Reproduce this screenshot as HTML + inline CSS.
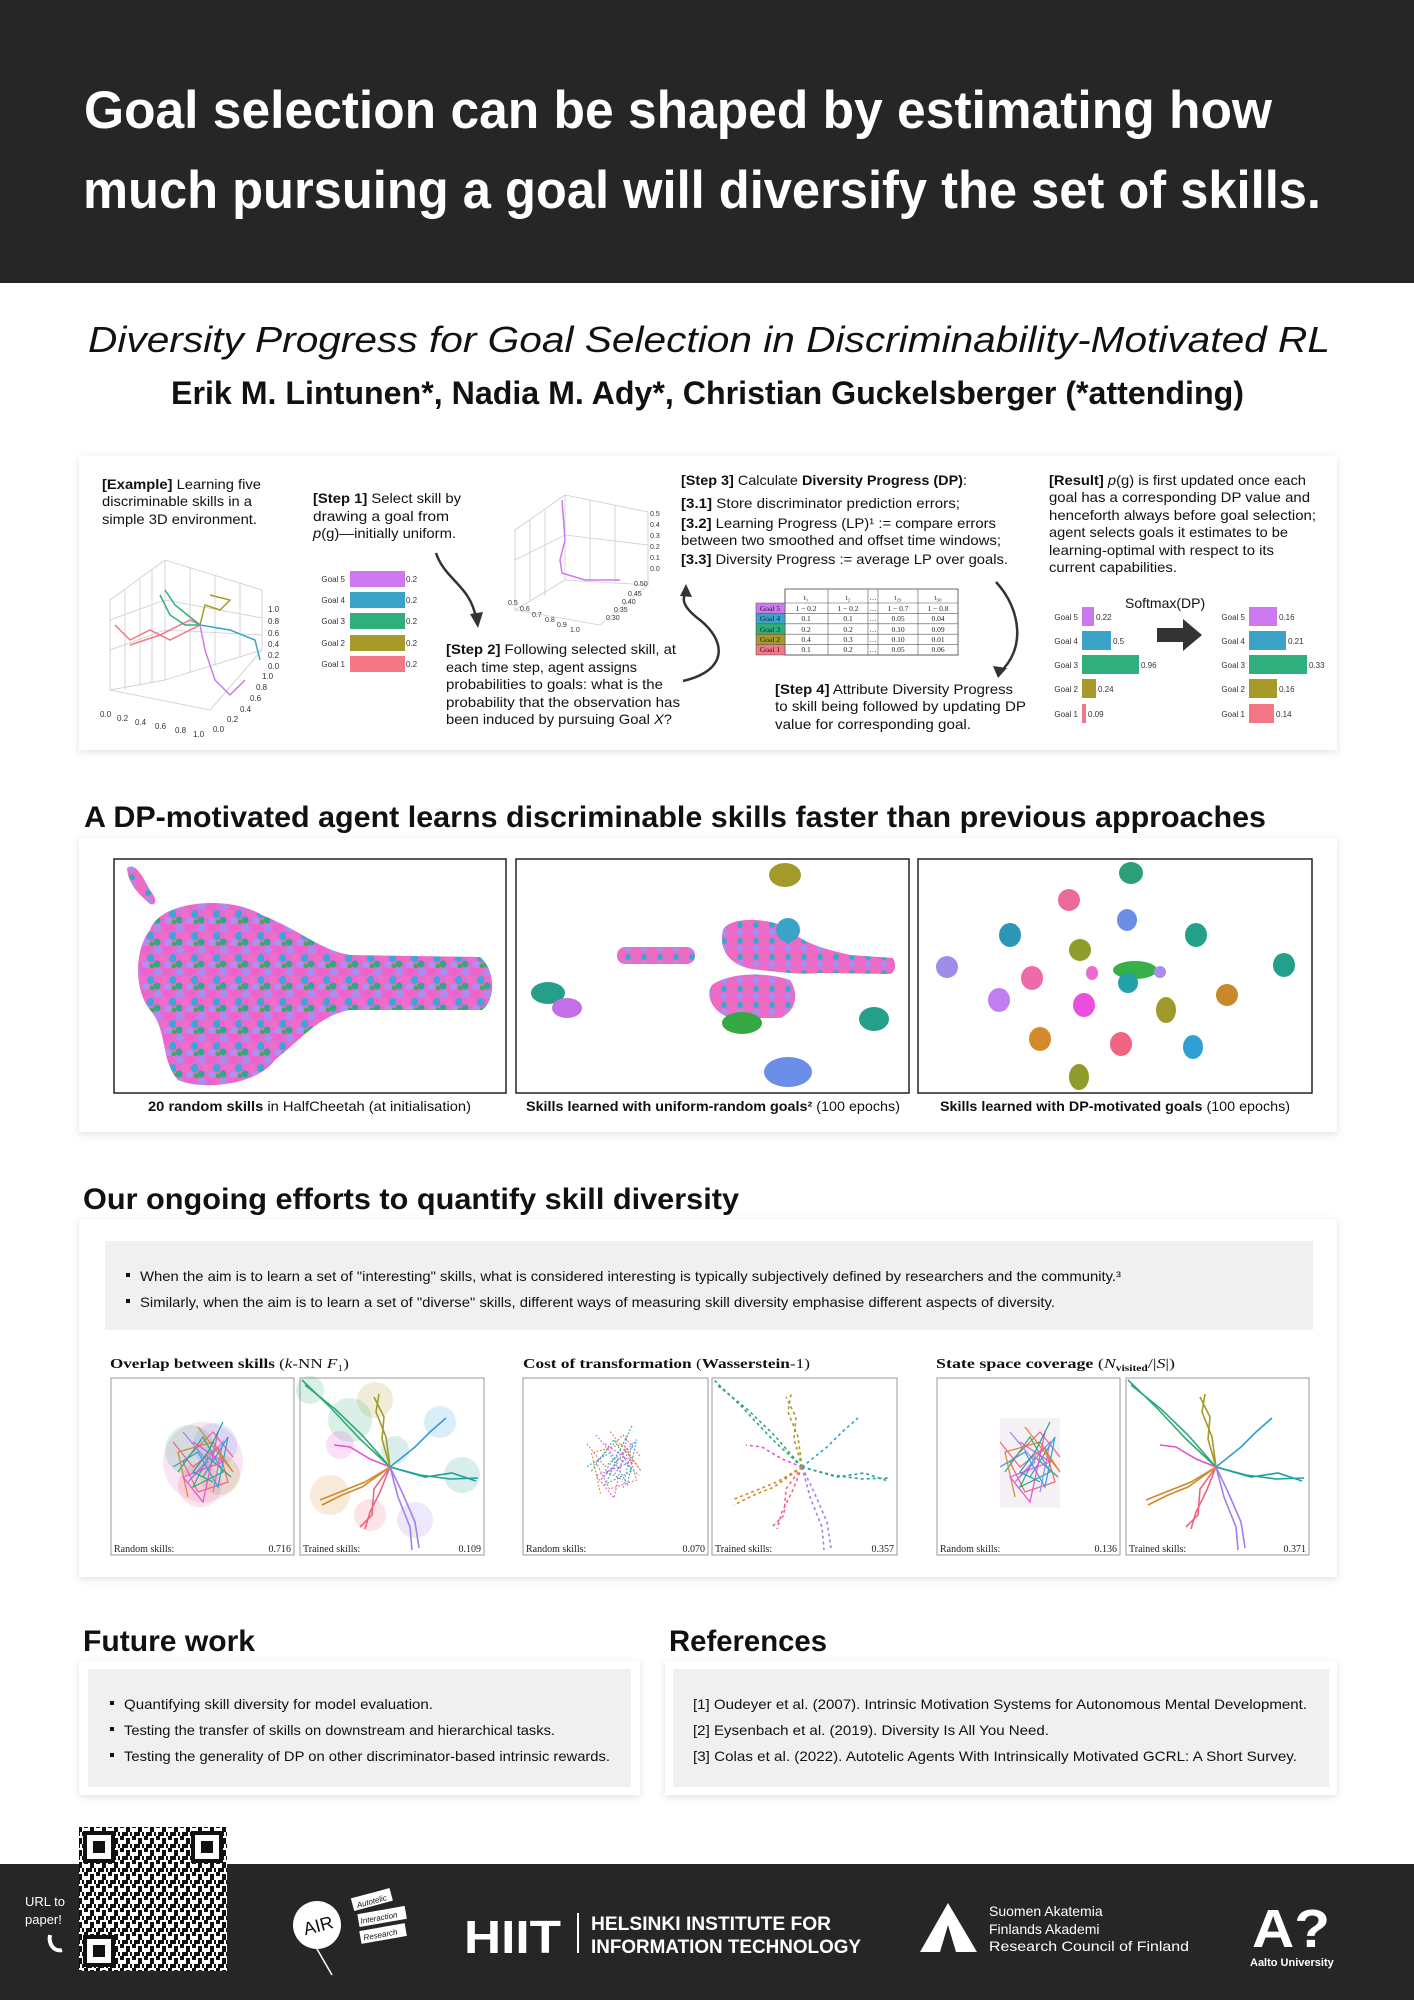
<!DOCTYPE html>
<html><head><meta charset="utf-8"><style>html,body{margin:0;padding:0;background:#fff}svg{display:block}</style></head>
<body>
<svg width="1414" height="2000" viewBox="0 0 1414 2000" xmlns="http://www.w3.org/2000/svg" font-family="Liberation Sans, sans-serif">
<defs>
<filter id="sh" x="-5%" y="-5%" width="110%" height="115%"><feDropShadow dx="0" dy="2" stdDeviation="4" flood-color="#000" flood-opacity="0.12"/></filter>
<pattern id="mix" width="22" height="22" patternUnits="userSpaceOnUse">
<rect width="22" height="22" fill="#e86ad0"/>
<circle cx="4" cy="4" r="4" fill="#a98ef0"/><circle cx="14" cy="3" r="4" fill="#f062c8"/><circle cx="19" cy="12" r="4" fill="#3aa7d6"/>
<circle cx="9" cy="12" r="4" fill="#ef6fc8"/><circle cx="3" cy="18" r="3.5" fill="#2fa88a"/><circle cx="14" cy="19" r="4" fill="#b58cf2"/><circle cx="20" cy="20" r="2.5" fill="#3fae4a"/>
</pattern>
<pattern id="mix2" width="16" height="16" patternUnits="userSpaceOnUse">
<rect width="16" height="16" fill="#ec6ac8"/>
<circle cx="4" cy="4" r="3.5" fill="#a98ef0"/><circle cx="12" cy="10" r="3.5" fill="#f26bbd"/><circle cx="4" cy="13" r="3" fill="#36a9c9"/>
</pattern>
<pattern id="qr" width="12" height="12" patternUnits="userSpaceOnUse">
<rect width="12" height="12" fill="#fff"/><rect x="0" y="0" width="4" height="4" fill="#111"/><rect x="6" y="2" width="4" height="6" fill="#111"/><rect x="2" y="8" width="6" height="4" fill="#111"/><rect x="10" y="8" width="2" height="4" fill="#111"/>
</pattern>
<g id="star" fill="none" stroke-width="1.6">
<path d="M0,0 L-30,-28 L-60,-60 L-88,-87" stroke="#2eaa72"/><path d="M0,0 L-4,-30 L-14,-55 L-11,-73" stroke="#a49b2a"/>
<path d="M0,0 L25,-20 L40,-35 L56,-49" stroke="#2f9fd6"/><path d="M0,0 L30,8 L60,12 L88,11" stroke="#1fa29a"/>
<path d="M0,0 L12,25 L25,55 L29,81" stroke="#a37ef2"/><path d="M0,0 L-10,25 L-20,45 L-25,62" stroke="#f06480"/>
<path d="M0,0 L-25,15 L-50,25 L-70,33" stroke="#d08a2a"/><path d="M0,0 L-20,-8 L-40,-20 L-56,-22" stroke="#e64fd3"/>
<path d="M0,0 L-28,-32 L-55,-58 L-85,-82" stroke="#2eaa72"/><path d="M0,0 L-8,-28 L-6,-50 L-16,-70" stroke="#a49b2a"/>
<path d="M0,0 L35,10 L62,6 L86,14" stroke="#1fa29a"/><path d="M0,0 L8,30 L20,60 L22,83" stroke="#a37ef2"/>
<path d="M0,0 L-16,22 L-18,48 L-30,60" stroke="#f06480"/><path d="M0,0 L-28,20 L-48,28 L-68,38" stroke="#d08a2a"/>
</g>
<g id="rnd" fill="none" stroke-width="1.2">
<path d="M-30,-20 L-10,5 L15,-15 L25,20 L-5,30 L-20,0 L10,-30 L30,-5" stroke="#f06480"/>
<path d="M-25,10 L0,-25 L20,10 L-10,25 L5,-5 L28,15" stroke="#2eaa72"/>
<path d="M-20,-30 L5,0 L-15,20 L20,-20 L10,30" stroke="#a37ef2"/>
<path d="M-30,5 L-5,-10 L15,25 L25,-25 L0,15" stroke="#2f9fd6"/>
<path d="M-15,35 L-25,-10 L10,-20 L30,10 L-5,-35" stroke="#d08a2a"/>
<path d="M-10,-20 L20,0 L-20,15 L0,40 L15,-30" stroke="#e64fd3"/>
<path d="M20,-40 L5,-10 L-10,10 L10,20" stroke="#1fa29a"/>
</g>
</defs>

<!-- header -->
<rect x="0" y="0" width="1414" height="283" fill="#262626"/>
<text x="84" y="128" font-size="53" font-weight="bold" fill="#fff" textLength="1188" lengthAdjust="spacingAndGlyphs">Goal selection can be shaped by estimating how</text>
<text x="83" y="208" font-size="53" font-weight="bold" fill="#fff" textLength="1238" lengthAdjust="spacingAndGlyphs">much pursuing a goal will diversify the set of skills.</text>

<text x="88" y="352" font-size="36" font-style="italic" fill="#111" textLength="1242" lengthAdjust="spacingAndGlyphs">Diversity Progress for Goal Selection in Discriminability-Motivated RL</text>
<text x="171" y="404" font-size="32" font-weight="bold" fill="#111" textLength="1073" lengthAdjust="spacingAndGlyphs">Erik M. Lintunen*, Nadia M. Ady*, Christian Guckelsberger (*attending)</text>

<!-- panel 1 -->
<rect x="79" y="456" width="1258" height="294" fill="#fff" filter="url(#sh)"/>
<g font-size="14" fill="#111">
<text x="102" y="489" textLength="159" lengthAdjust="spacingAndGlyphs"><tspan font-weight="bold">[Example]</tspan> Learning five</text>
<text x="102" y="506" textLength="150" lengthAdjust="spacingAndGlyphs">discriminable skills in a</text>
<text x="102" y="524" textLength="155" lengthAdjust="spacingAndGlyphs">simple 3D environment.</text>
<text x="313" y="503" textLength="148" lengthAdjust="spacingAndGlyphs"><tspan font-weight="bold">[Step 1]</tspan> Select skill by</text>
<text x="313" y="521" textLength="136" lengthAdjust="spacingAndGlyphs">drawing a goal from</text>
<text x="313" y="538" textLength="143" lengthAdjust="spacingAndGlyphs"><tspan font-style="italic">p</tspan>(g)—initially uniform.</text>
<text x="446" y="654" textLength="230" lengthAdjust="spacingAndGlyphs"><tspan font-weight="bold">[Step 2]</tspan> Following selected skill, at</text>
<text x="446" y="672" textLength="191" lengthAdjust="spacingAndGlyphs">each time step, agent assigns</text>
<text x="446" y="689" textLength="217" lengthAdjust="spacingAndGlyphs">probabilities to goals: what is the</text>
<text x="446" y="707" textLength="234" lengthAdjust="spacingAndGlyphs">probability that the observation has</text>
<text x="446" y="724" textLength="226" lengthAdjust="spacingAndGlyphs">been induced by pursuing Goal <tspan font-style="italic">X</tspan>?</text>
<text x="681" y="485" textLength="286" lengthAdjust="spacingAndGlyphs"><tspan font-weight="bold">[Step 3]</tspan> Calculate <tspan font-weight="bold">Diversity Progress (DP)</tspan>:</text>
<text x="681" y="508" textLength="279" lengthAdjust="spacingAndGlyphs"><tspan font-weight="bold">[3.1]</tspan> Store discriminator prediction errors;</text>
<text x="681" y="528" textLength="315" lengthAdjust="spacingAndGlyphs"><tspan font-weight="bold">[3.2]</tspan> Learning Progress (LP)¹ := compare errors</text>
<text x="681" y="545" textLength="320" lengthAdjust="spacingAndGlyphs">between two smoothed and offset time windows;</text>
<text x="681" y="564" textLength="327" lengthAdjust="spacingAndGlyphs"><tspan font-weight="bold">[3.3]</tspan> Diversity Progress := average LP over goals.</text>
<text x="775" y="694" textLength="238" lengthAdjust="spacingAndGlyphs"><tspan font-weight="bold">[Step 4]</tspan> Attribute Diversity Progress</text>
<text x="775" y="711" textLength="251" lengthAdjust="spacingAndGlyphs">to skill being followed by updating DP</text>
<text x="775" y="729" textLength="196" lengthAdjust="spacingAndGlyphs">value for corresponding goal.</text>
<text x="1049" y="485" textLength="257" lengthAdjust="spacingAndGlyphs"><tspan font-weight="bold">[Result]</tspan> <tspan font-style="italic">p</tspan>(g) is first updated once each</text>
<text x="1049" y="502" textLength="261" lengthAdjust="spacingAndGlyphs">goal has a corresponding DP value and</text>
<text x="1049" y="520" textLength="267" lengthAdjust="spacingAndGlyphs">henceforth always before goal selection;</text>
<text x="1049" y="537" textLength="239" lengthAdjust="spacingAndGlyphs">agent selects goals it estimates to be</text>
<text x="1049" y="555" textLength="225" lengthAdjust="spacingAndGlyphs">learning-optimal with respect to its</text>
<text x="1049" y="572" textLength="128" lengthAdjust="spacingAndGlyphs">current capabilities.</text>
<text x="1125" y="608" font-size="14">Softmax(DP)</text>
</g>

<!-- 3D plot 1 -->
<g stroke="#ccc" fill="none" stroke-width="0.8">
<path d="M110,600 L165,560 L165,680 L110,690 Z"/><path d="M165,560 L262,590 L262,650 L165,680"/><path d="M110,690 L210,710 L262,650"/>
<path d="M125,590 L125,690 M140,578 L140,686 M152,570 L152,683 M190,568 L190,672 M215,575 L215,665 M240,583 L240,658 M110,620 L165,600 L262,618 M110,650 L165,630 L262,635"/>
</g>
<g fill="none" stroke-width="1.5">
<path d="M115,625 L130,640 L150,630 L170,640 L200,625 L190,620 L160,635 L130,645" stroke="#f37787"/>
<path d="M160,595 L170,615 L185,625 L200,625 L175,605 L165,590" stroke="#2eaf7d"/>
<path d="M200,625 L205,605 L220,610 L230,600 L210,595" stroke="#a89a2a"/>
<path d="M200,625 L230,630 L255,640 L260,660" stroke="#3ba3c8"/>
<path d="M200,625 L205,650 L215,680 L230,695 L245,680" stroke="#cc79f0"/>
</g>
<g font-size="8" fill="#333">
<text x="268" y="612">1.0</text><text x="268" y="624">0.8</text><text x="268" y="636">0.6</text><text x="268" y="647">0.4</text><text x="268" y="658">0.2</text><text x="268" y="669">0.0</text>
<text x="100" y="717">0.0</text><text x="117" y="721">0.2</text><text x="135" y="725">0.4</text><text x="155" y="729">0.6</text><text x="175" y="733">0.8</text><text x="193" y="737">1.0</text>
<text x="262" y="679">1.0</text><text x="256" y="690">0.8</text><text x="250" y="701">0.6</text><text x="240" y="712">0.4</text><text x="227" y="722">0.2</text><text x="213" y="732">0.0</text>
</g>
<!-- 3D plot 2 -->
<g stroke="#ccc" fill="none" stroke-width="0.8">
<path d="M515,530 L565,495 L565,580 L515,610 Z"/><path d="M565,495 L648,512 L648,585 L565,580"/><path d="M515,610 L600,625 L648,585"/>
<path d="M530,520 L530,600 M545,510 L545,596 M590,500 L590,581 M615,505 L615,582 M515,560 L565,535 L648,545"/>
</g>
<path d="M562,500 L565,540 L560,560 L562,573 L585,580 L620,580" stroke="#cc79f0" fill="none" stroke-width="1.5"/>
<g font-size="7" fill="#333"><text x="650" y="516">0.5</text><text x="650" y="527">0.4</text><text x="650" y="538">0.3</text><text x="650" y="549">0.2</text><text x="650" y="560">0.1</text><text x="650" y="571">0.0</text>
<text x="634" y="586">0.50</text><text x="628" y="596">0.45</text><text x="622" y="604">0.40</text><text x="614" y="612">0.35</text><text x="606" y="620">0.30</text>
<text x="508" y="605">0.5</text><text x="520" y="611">0.6</text><text x="532" y="617">0.7</text><text x="545" y="622">0.8</text><text x="557" y="627">0.9</text><text x="570" y="632">1.0</text></g>

<!-- step 1 bars -->
<g font-size="8" fill="#333" text-anchor="end">
<text x="345" y="582">Goal 5</text><text x="345" y="603">Goal 4</text><text x="345" y="624">Goal 3</text><text x="345" y="646">Goal 2</text><text x="345" y="667">Goal 1</text></g>
<rect x="350" y="571" width="55" height="16" fill="#cc79f0"/><rect x="350" y="592" width="55" height="16" fill="#3ba3c8"/><rect x="350" y="613" width="55" height="16" fill="#2eaf7d"/><rect x="350" y="635" width="55" height="16" fill="#a89a2a"/><rect x="350" y="656" width="55" height="16" fill="#f37787"/>
<g font-size="8" fill="#333"><text x="406" y="582">0.2</text><text x="406" y="603">0.2</text><text x="406" y="624">0.2</text><text x="406" y="646">0.2</text><text x="406" y="667">0.2</text></g>

<!-- arrows -->
<g fill="none" stroke="#333" stroke-width="2.5">
<path d="M436,553 C445,580 470,585 476,618"/>
<path d="M683,681 C730,670 725,640 700,620 C680,605 683,598 686,592"/>
<path d="M996,582 C1022,610 1025,650 1000,672"/>
</g>
<g fill="#333"><path d="M470,614 L478,628 L483,612 Z"/><path d="M680,596 L686,584 L692,597 Z"/><path d="M993,666 L998,678 L1007,668 Z"/></g>

<!-- table -->
<g font-size="7.5" text-anchor="middle" font-family="Liberation Serif, serif" fill="#222">
<rect x="785" y="589" width="173" height="66" fill="#fff" stroke="#444" stroke-width="0.8"/>
<rect x="756" y="603" width="29" height="10.4" fill="#cc79f0"/><rect x="756" y="613.4" width="29" height="10.4" fill="#3ba3c8"/><rect x="756" y="623.8" width="29" height="10.4" fill="#2eaf7d"/><rect x="756" y="634.2" width="29" height="10.4" fill="#a89a2a"/><rect x="756" y="644.6" width="29" height="10.4" fill="#f37787"/>
<path d="M756,603 H958 M756,613.4 H958 M756,623.8 H958 M756,634.2 H958 M756,644.6 H958 M756,655 H958 M785,589 V655 M828,589 V655 M868,589 V655 M878,589 V655 M918,589 V655 M756,603 V655" stroke="#555" stroke-width="0.6"/>
<text x="806" y="600">t₁</text><text x="848" y="600">t₂</text><text x="873" y="600">…</text><text x="898" y="600">t₂₉</text><text x="938" y="600">t₃₀</text>
<text x="770" y="611">Goal 5</text><text x="770" y="621">Goal 4</text><text x="770" y="632">Goal 3</text><text x="770" y="642">Goal 2</text><text x="770" y="652">Goal 1</text>
<text x="806" y="611">1 − 0.2</text><text x="848" y="611">1 − 0.2</text><text x="873" y="611">…</text><text x="898" y="611">1 − 0.7</text><text x="938" y="611">1 − 0.8</text>
<text x="806" y="621">0.1</text><text x="848" y="621">0.1</text><text x="873" y="621">…</text><text x="898" y="621">0.05</text><text x="938" y="621">0.04</text>
<text x="806" y="632">0.2</text><text x="848" y="632">0.2</text><text x="873" y="632">…</text><text x="898" y="632">0.10</text><text x="938" y="632">0.09</text>
<text x="806" y="642">0.4</text><text x="848" y="642">0.3</text><text x="873" y="642">…</text><text x="898" y="642">0.10</text><text x="938" y="642">0.01</text>
<text x="806" y="652">0.1</text><text x="848" y="652">0.2</text><text x="873" y="652">…</text><text x="898" y="652">0.05</text><text x="938" y="652">0.06</text>
</g>

<!-- result bars -->
<g font-size="8" fill="#333">
<g text-anchor="end"><text x="1078" y="620">Goal 5</text><text x="1078" y="644">Goal 4</text><text x="1078" y="668">Goal 3</text><text x="1078" y="692">Goal 2</text><text x="1078" y="717">Goal 1</text>
<text x="1245" y="620">Goal 5</text><text x="1245" y="644">Goal 4</text><text x="1245" y="668">Goal 3</text><text x="1245" y="692">Goal 2</text><text x="1245" y="717">Goal 1</text></g>
<rect x="1082" y="607" width="12" height="19" fill="#cc79f0"/><rect x="1082" y="631" width="29" height="19" fill="#3ba3c8"/><rect x="1082" y="655" width="57" height="19" fill="#2eaf7d"/><rect x="1082" y="679" width="14" height="19" fill="#a89a2a"/><rect x="1082" y="704" width="4" height="19" fill="#f37787"/>
<text x="1096" y="620">0.22</text><text x="1113" y="644">0.5</text><text x="1141" y="668">0.96</text><text x="1098" y="692">0.24</text><text x="1088" y="717">0.09</text>
<rect x="1249" y="607" width="28" height="19" fill="#cc79f0"/><rect x="1249" y="631" width="37" height="19" fill="#3ba3c8"/><rect x="1249" y="655" width="58" height="19" fill="#2eaf7d"/><rect x="1249" y="679" width="28" height="19" fill="#a89a2a"/><rect x="1249" y="704" width="25" height="19" fill="#f37787"/>
<text x="1279" y="620">0.16</text><text x="1288" y="644">0.21</text><text x="1309" y="668">0.33</text><text x="1279" y="692">0.16</text><text x="1276" y="717">0.14</text>
</g>
<path d="M1157,628 H1183 V619 L1202,635 L1183,651 V642 H1157 Z" fill="#333"/>

<!-- section 2 -->
<text x="84" y="827" font-size="30" font-weight="bold" fill="#111" textLength="1182" lengthAdjust="spacingAndGlyphs">A DP-motivated agent learns discriminable skills faster than previous approaches</text>
<rect x="79" y="838" width="1258" height="294" fill="#fff" filter="url(#sh)"/>
<g fill="none" stroke="#222" stroke-width="1.5"><rect x="114" y="859" width="392" height="234"/><rect x="516" y="859" width="393" height="234"/><rect x="918" y="859" width="394" height="234"/></g>
<path d="M150,930 C160,900 230,895 262,915 C300,930 320,950 350,955 L480,957 C496,970 496,1000 482,1010 L350,1010 C320,1015 300,1040 275,1060 C255,1087 200,1090 178,1080 C160,1060 168,1030 150,1010 C134,990 134,950 150,930 Z" fill="url(#mix)"/>
<path d="M127,868 C135,862 142,875 150,890 C158,900 156,906 150,904 C140,895 128,885 127,868 Z" fill="url(#mix2)"/>
<!-- panel 2 clusters -->
<ellipse cx="785" cy="875" rx="16" ry="12" fill="#a39a2c"/>
<rect x="617" y="947" width="78" height="17" rx="8" fill="url(#mix2)"/>
<path d="M723,930 C730,915 775,918 790,930 C805,945 830,950 850,955 L893,958 C897,965 895,972 890,974 L820,973 C800,975 780,972 760,970 C730,968 718,950 723,930 Z" fill="url(#mix2)"/>
<circle cx="788" cy="930" r="12" fill="#3ba3c8"/>
<path d="M712,985 C725,975 760,970 790,980 C800,995 795,1012 780,1018 L730,1018 C712,1012 705,995 712,985 Z" fill="url(#mix2)"/>
<ellipse cx="742" cy="1023" rx="20" ry="11" fill="#36a843"/>
<ellipse cx="548" cy="993" rx="17" ry="11" fill="#259e8a"/><ellipse cx="567" cy="1008" rx="15" ry="10" fill="#c46ee8"/>
<ellipse cx="874" cy="1019" rx="15" ry="12" fill="#259e8a"/>
<ellipse cx="788" cy="1072" rx="24" ry="15" fill="#6b8fe8"/>
<!-- panel 3 clusters -->
<g>
<ellipse cx="1131" cy="873" rx="12" ry="11" fill="#2b9f77"/><ellipse cx="1069" cy="900" rx="11" ry="11" fill="#ec6a9a"/><ellipse cx="1127" cy="920" rx="10" ry="11" fill="#6b8fe8"/>
<ellipse cx="1010" cy="935" rx="11" ry="12" fill="#2d96b8"/><ellipse cx="1196" cy="935" rx="11" ry="12" fill="#23a08a"/><ellipse cx="1080" cy="950" rx="11" ry="11" fill="#8f9b2a"/>
<ellipse cx="947" cy="967" rx="11" ry="11" fill="#9f8ce8"/><ellipse cx="1284" cy="965" rx="11" ry="12" fill="#23a08a"/>
<ellipse cx="1135" cy="970" rx="22" ry="9" fill="#38b048"/><ellipse cx="1128" cy="983" rx="10" ry="10" fill="#23a0a8"/><circle cx="1160" cy="972" r="6" fill="#a98ef0"/>
<ellipse cx="1092" cy="973" rx="6" ry="7" fill="#ec6ad0"/><ellipse cx="1032" cy="978" rx="11" ry="12" fill="#ef6aa8"/><ellipse cx="999" cy="1000" rx="11" ry="12" fill="#c07ef0"/>
<ellipse cx="1084" cy="1005" rx="11" ry="12" fill="#ea4fe0"/><ellipse cx="1166" cy="1010" rx="10" ry="13" fill="#a09a2c"/><ellipse cx="1227" cy="995" rx="11" ry="11" fill="#c9882a"/>
<ellipse cx="1040" cy="1039" rx="11" ry="12" fill="#d48a2c"/><ellipse cx="1121" cy="1044" rx="11" ry="12" fill="#ef6480"/><ellipse cx="1193" cy="1047" rx="10" ry="12" fill="#2f9fd6"/>
<ellipse cx="1079" cy="1077" rx="10" ry="13" fill="#8f9b2a"/>
</g>
<g font-size="14" fill="#111">
<text x="148" y="1111" textLength="323" lengthAdjust="spacingAndGlyphs"><tspan font-weight="bold">20 random skills</tspan> in HalfCheetah (at initialisation)</text>
<text x="526" y="1111" textLength="374" lengthAdjust="spacingAndGlyphs" font-weight="bold">Skills learned with uniform-random goals² <tspan font-weight="normal">(100 epochs)</tspan></text>
<text x="940" y="1111" textLength="350" lengthAdjust="spacingAndGlyphs" font-weight="bold">Skills learned with DP-motivated goals <tspan font-weight="normal">(100 epochs)</tspan></text>
</g>

<!-- section 3 -->
<text x="83" y="1209" font-size="30" font-weight="bold" fill="#111" textLength="656" lengthAdjust="spacingAndGlyphs">Our ongoing efforts to quantify skill diversity</text>
<rect x="79" y="1219" width="1258" height="358" fill="#fff" filter="url(#sh)"/>
<rect x="105" y="1241" width="1208" height="89" fill="#f0f0f0"/>
<g font-size="14" fill="#111">
<rect x="126" y="1273" width="4" height="4" fill="#111"/><rect x="126" y="1299" width="4" height="4" fill="#111"/>
<text x="140" y="1281" textLength="981" lengthAdjust="spacingAndGlyphs">When the aim is to learn a set of "interesting" skills, what is considered interesting is typically subjectively defined by researchers and the community.³</text>
<text x="140" y="1307" textLength="915" lengthAdjust="spacingAndGlyphs">Similarly, when the aim is to learn a set of "diverse" skills, different ways of measuring skill diversity emphasise different aspects of diversity.</text>
</g>
<g font-family="Liberation Serif, serif" font-size="14" fill="#111">
<text x="110" y="1368" textLength="239" lengthAdjust="spacingAndGlyphs"><tspan font-weight="bold">Overlap between skills</tspan> (<tspan font-style="italic">k</tspan>-NN <tspan font-style="italic">F</tspan>₁)</text>
<text x="523" y="1368" textLength="287" lengthAdjust="spacingAndGlyphs"><tspan font-weight="bold">Cost of transformation</tspan> (<tspan font-weight="bold">Wasserstein</tspan>-1)</text>
<text x="936" y="1368" textLength="239" lengthAdjust="spacingAndGlyphs"><tspan font-weight="bold">State space coverage</tspan> (<tspan font-style="italic">N</tspan><tspan font-size="9" dy="3" font-weight="bold">visited</tspan><tspan dy="-3">/|</tspan><tspan font-style="italic">S</tspan>|)</text>
</g>
<g fill="#fff" stroke="#999" stroke-width="1">
<rect x="111" y="1378" width="183" height="177"/><rect x="300" y="1378" width="184" height="177"/>
<rect x="523" y="1378" width="185" height="177"/><rect x="712" y="1378" width="185" height="177"/>
<rect x="937" y="1378" width="183" height="177"/><rect x="1126" y="1378" width="183" height="177"/>
</g>
<!-- overlap halos -->
<g fill-opacity="0.18">
<circle cx="203" cy="1462" r="40" fill="#e070c0"/><circle cx="190" cy="1450" r="25" fill="#2eaa72"/><circle cx="215" cy="1445" r="22" fill="#6b8fe8"/><circle cx="200" cy="1485" r="22" fill="#f06480"/><circle cx="220" cy="1475" r="20" fill="#a49b2a"/>
<circle cx="350" cy="1420" r="22" fill="#2eaa72"/><circle cx="375" cy="1400" r="18" fill="#a49b2a"/><circle cx="440" cy="1422" r="16" fill="#2f9fd6"/><circle cx="462" cy="1475" r="18" fill="#1fa29a"/>
<circle cx="415" cy="1520" r="18" fill="#a37ef2"/><circle cx="370" cy="1515" r="16" fill="#f06480"/><circle cx="330" cy="1495" r="20" fill="#d08a2a"/><circle cx="340" cy="1445" r="14" fill="#e64fd3"/>
<circle cx="310" cy="1390" r="14" fill="#2eaa72"/><circle cx="395" cy="1450" r="14" fill="#1fa29a"/>
</g>
<use href="#rnd" transform="translate(203,1462) scale(1)"/>
<use href="#star" transform="translate(390,1467)"/>
<use href="#rnd" transform="translate(614,1462) scale(0.9)" stroke-dasharray="2 2"/>
<use href="#star" transform="translate(802,1467)" stroke-dasharray="3 3"/>
<rect x="1000" y="1418" width="60" height="90" fill="#efe8f0" opacity="0.6"/>
<use href="#rnd" transform="translate(1030,1462)"/>
<use href="#star" transform="translate(1216,1467)"/>
<g font-family="Liberation Serif, serif" font-size="10" fill="#222">
<text x="114" y="1552">Random skills:</text><text x="291" y="1552" text-anchor="end">0.716</text>
<text x="303" y="1552">Trained skills:</text><text x="481" y="1552" text-anchor="end">0.109</text>
<text x="526" y="1552">Random skills:</text><text x="705" y="1552" text-anchor="end">0.070</text>
<text x="715" y="1552">Trained skills:</text><text x="894" y="1552" text-anchor="end">0.357</text>
<text x="940" y="1552">Random skills:</text><text x="1117" y="1552" text-anchor="end">0.136</text>
<text x="1129" y="1552">Trained skills:</text><text x="1306" y="1552" text-anchor="end">0.371</text>
</g>

<!-- future work / references -->
<text x="83" y="1651" font-size="30" font-weight="bold" fill="#111" textLength="172" lengthAdjust="spacingAndGlyphs">Future work</text>
<text x="669" y="1651" font-size="30" font-weight="bold" fill="#111" textLength="158" lengthAdjust="spacingAndGlyphs">References</text>
<rect x="79" y="1661" width="561" height="134" fill="#fff" filter="url(#sh)"/>
<rect x="665" y="1661" width="672" height="134" fill="#fff" filter="url(#sh)"/>
<rect x="88" y="1669" width="543" height="118" fill="#f0f0f0"/>
<rect x="673" y="1669" width="656" height="118" fill="#f0f0f0"/>
<g font-size="14" fill="#111">
<rect x="110" y="1701" width="4" height="4"/><rect x="110" y="1727" width="4" height="4"/><rect x="110" y="1753" width="4" height="4"/>
<text x="124" y="1709" textLength="309" lengthAdjust="spacingAndGlyphs">Quantifying skill diversity for model evaluation.</text>
<text x="124" y="1735" textLength="431" lengthAdjust="spacingAndGlyphs">Testing the transfer of skills on downstream and hierarchical tasks.</text>
<text x="124" y="1761" textLength="486" lengthAdjust="spacingAndGlyphs">Testing the generality of DP on other discriminator-based intrinsic rewards.</text>
<text x="693" y="1709" textLength="614" lengthAdjust="spacingAndGlyphs">[1] Oudeyer et al. (2007). Intrinsic Motivation Systems for Autonomous Mental Development.</text>
<text x="693" y="1735" textLength="356" lengthAdjust="spacingAndGlyphs">[2] Eysenbach et al. (2019). Diversity Is All You Need.</text>
<text x="693" y="1761" textLength="604" lengthAdjust="spacingAndGlyphs">[3] Colas et al. (2022). Autotelic Agents With Intrinsically Motivated GCRL: A Short Survey.</text>
</g>

<!-- footer -->
<rect x="0" y="1864" width="1414" height="136" fill="#262626"/>
<rect x="79" y="1827" width="148" height="144" fill="url(#qr)"/>
<g fill="none" stroke="#111" stroke-width="4">
<rect x="85" y="1833" width="28" height="28" fill="#fff"/><rect x="193" y="1833" width="28" height="28" fill="#fff"/><rect x="85" y="1937" width="28" height="28" fill="#fff"/></g>
<rect x="93" y="1841" width="12" height="12" fill="#111"/><rect x="201" y="1841" width="12" height="12" fill="#111"/><rect x="93" y="1945" width="12" height="12" fill="#111"/>
<g font-size="13" fill="#fff"><text x="25" y="1906">URL to</text><text x="25" y="1924">paper!</text></g>
<path d="M50,1935 C48,1945 55,1952 62,1950" stroke="#fff" stroke-width="4" fill="none"/>
<circle cx="317" cy="1925" r="24" fill="#fff"/><text x="303" y="1932" font-size="18" fill="#111" transform="rotate(-15 317 1925)">AIR</text>
<path d="M317,1949 L332,1975" stroke="#fff" stroke-width="1.5"/>
<g fill="#fff"><rect x="352" y="1893" width="40" height="13" transform="rotate(-15 372 1900)"/><rect x="358" y="1910" width="48" height="13" transform="rotate(-10 382 1916)"/><rect x="360" y="1927" width="46" height="13" transform="rotate(-10 383 1933)"/></g>
<g font-size="8" fill="#111" font-style="italic"><text x="356" y="1904" transform="rotate(-15 372 1900)">Autotelic</text><text x="360" y="1920" transform="rotate(-10 382 1916)">Interaction</text><text x="363" y="1937" transform="rotate(-10 383 1933)">Research</text></g>
<text x="464" y="1953" font-size="46" font-weight="bold" fill="#fff" textLength="97" lengthAdjust="spacingAndGlyphs">HIIT</text>
<rect x="577" y="1913" width="2" height="40" fill="#fff"/>
<text x="591" y="1930" font-size="19" font-weight="bold" fill="#fff" textLength="240" lengthAdjust="spacingAndGlyphs">HELSINKI INSTITUTE FOR</text>
<text x="591" y="1953" font-size="19" font-weight="bold" fill="#fff" textLength="270" lengthAdjust="spacingAndGlyphs">INFORMATION TECHNOLOGY</text>
<path d="M948,1903 L977,1952 L920,1952 Z" fill="#fff"/><path d="M948,1925 L940,1952 L956,1952 Z" fill="#262626"/>
<g font-size="14" fill="#fff"><text x="989" y="1916">Suomen Akatemia</text><text x="989" y="1934">Finlands Akademi</text><text x="989" y="1951" textLength="200" lengthAdjust="spacingAndGlyphs">Research Council of Finland</text></g>
<text x="1252" y="1947" font-size="54" font-weight="bold" fill="#fff" textLength="78" lengthAdjust="spacingAndGlyphs">A?</text>
<text x="1250" y="1966" font-size="11" font-weight="bold" fill="#fff">Aalto University</text>
</svg>
</body></html>
